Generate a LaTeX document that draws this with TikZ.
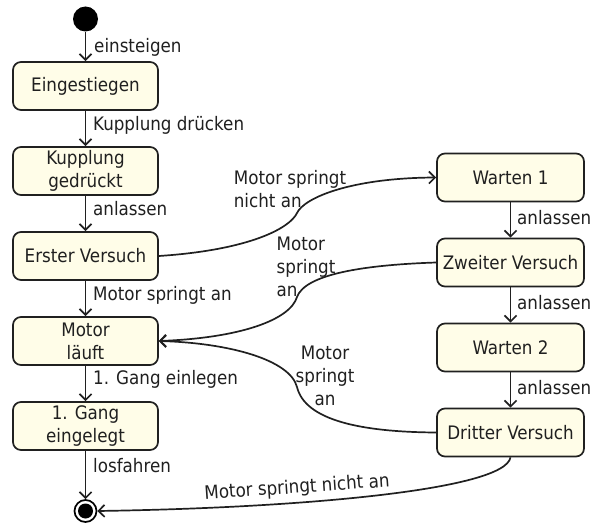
\documentclass[tikz,border=0pt]{standalone}
\usepackage{fontspec}
\setmainfont{DejaVu Sans Condensed}
\usetikzlibrary{arrows.meta}
\definecolor{statefill}{RGB}{255,253,232}
\definecolor{ink}{RGB}{32,32,32}
\begin{document}
\begin{tikzpicture}[x=1pt,y=-1pt,
  every node/.style={font=\fontsize{18.6}{23}\selectfont, text=ink},
  state/.style={draw=ink, line width=1.7pt, fill=statefill, rounded corners=8pt,
    minimum width=145pt, minimum height=48pt, align=center, inner sep=2pt},
  rstate/.style={state, minimum width=147pt},
  trans/.style={draw=ink, line width=1.7pt, -{Straight Barb[length=6pt,width=12pt,line width=1.7pt]}},
  lab/.style={anchor=west, inner sep=0pt}
]
\useasboundingbox (0,0) rectangle (594,524);

% initial and final pseudo-states
\node[circle, fill=black, minimum size=25pt, inner sep=0pt] (start) at (85.5,19) {};
\node[circle, draw=black, line width=1.7pt, fill=white, minimum size=22pt, inner sep=0pt] (stop) at (85.5,511) {};
\fill[black] (stop.center) circle (7.5pt);

% left column
\node[state] (s1) at (85.5,86)  {Eingestiegen};
\node[state] (s2) at (85.5,171) {Kupplung\\gedrückt};
\node[state] (s3) at (85.5,256) {Erster Versuch};
\node[state] (s4) at (85.5,341) {Motor\\läuft};
\node[state] (s5) at (85.5,426) {1. Gang\\eingelegt};

% right column
\node[rstate] (r1) at (510.5,177.5) {Warten 1};
\node[rstate] (r2) at (510.5,262.5) {Zweiter Versuch};
\node[rstate] (r3) at (510.5,347.5) {Warten 2};
\node[rstate] (r4) at (510.5,432.5) {Dritter Versuch};

% straight transitions
\draw[trans] (start) -- (s1);
\draw[trans] (s1) -- (s2);
\draw[trans] (s2) -- (s3);
\draw[trans] (s3) -- (s4);
\draw[trans] (s4) -- (s5);
\draw[trans] (s5) -- (stop);
\draw[trans] (r1) -- (r2);
\draw[trans] (r2) -- (r3);
\draw[trans] (r3) -- (r4);

\node[lab] (l1) at (94,47)  {einsteigen};
\node[lab] (l2) at (93,125) {Kupplung drücken};
\node[lab] (l3) at (93,209) {anlassen};
\node[lab] (l4) at (93,295) {Motor springt an};
\node[lab] (l5) at (93,379) {1. Gang einlegen};
\node[lab] (l6) at (93,466) {losfahren};
\node[lab] (l7) at (517,218) {anlassen};
\node[lab] (l8) at (517,303) {anlassen};
\node[lab] (l9) at (517,388) {anlassen};

% curved transitions
\draw[trans] (s3.east) .. controls (250,250) and (290,228) .. (297,213)
  .. controls (304,198) and (350,178) .. (r1.west);
\draw[trans] (r2.west) .. controls (360,265) and (305,275) .. (297,297)
  .. controls (290,320) and (240,338) .. (s4.east);
\draw[trans] (r4.west) .. controls (360,432) and (305,420) .. (297,387)
  .. controls (290,360) and (230,343) .. (s4.east);
\draw[trans] (r4.south) .. controls (505,490) and (300,508) .. (stop.east);

\node[align=left, inner sep=0pt] (m1) at (290,189) {Motor springt\\nicht an};
\node[align=left, inner sep=0pt] (m2) at (306,267) {Motor\\springt\\an};
\node[align=center, inner sep=0pt] (m3) at (325,376) {Motor\\springt\\an};
\node[rotate=4, inner sep=0pt] (m4) at (297,488) {Motor springt nicht an};
\end{tikzpicture}
\end{document}
